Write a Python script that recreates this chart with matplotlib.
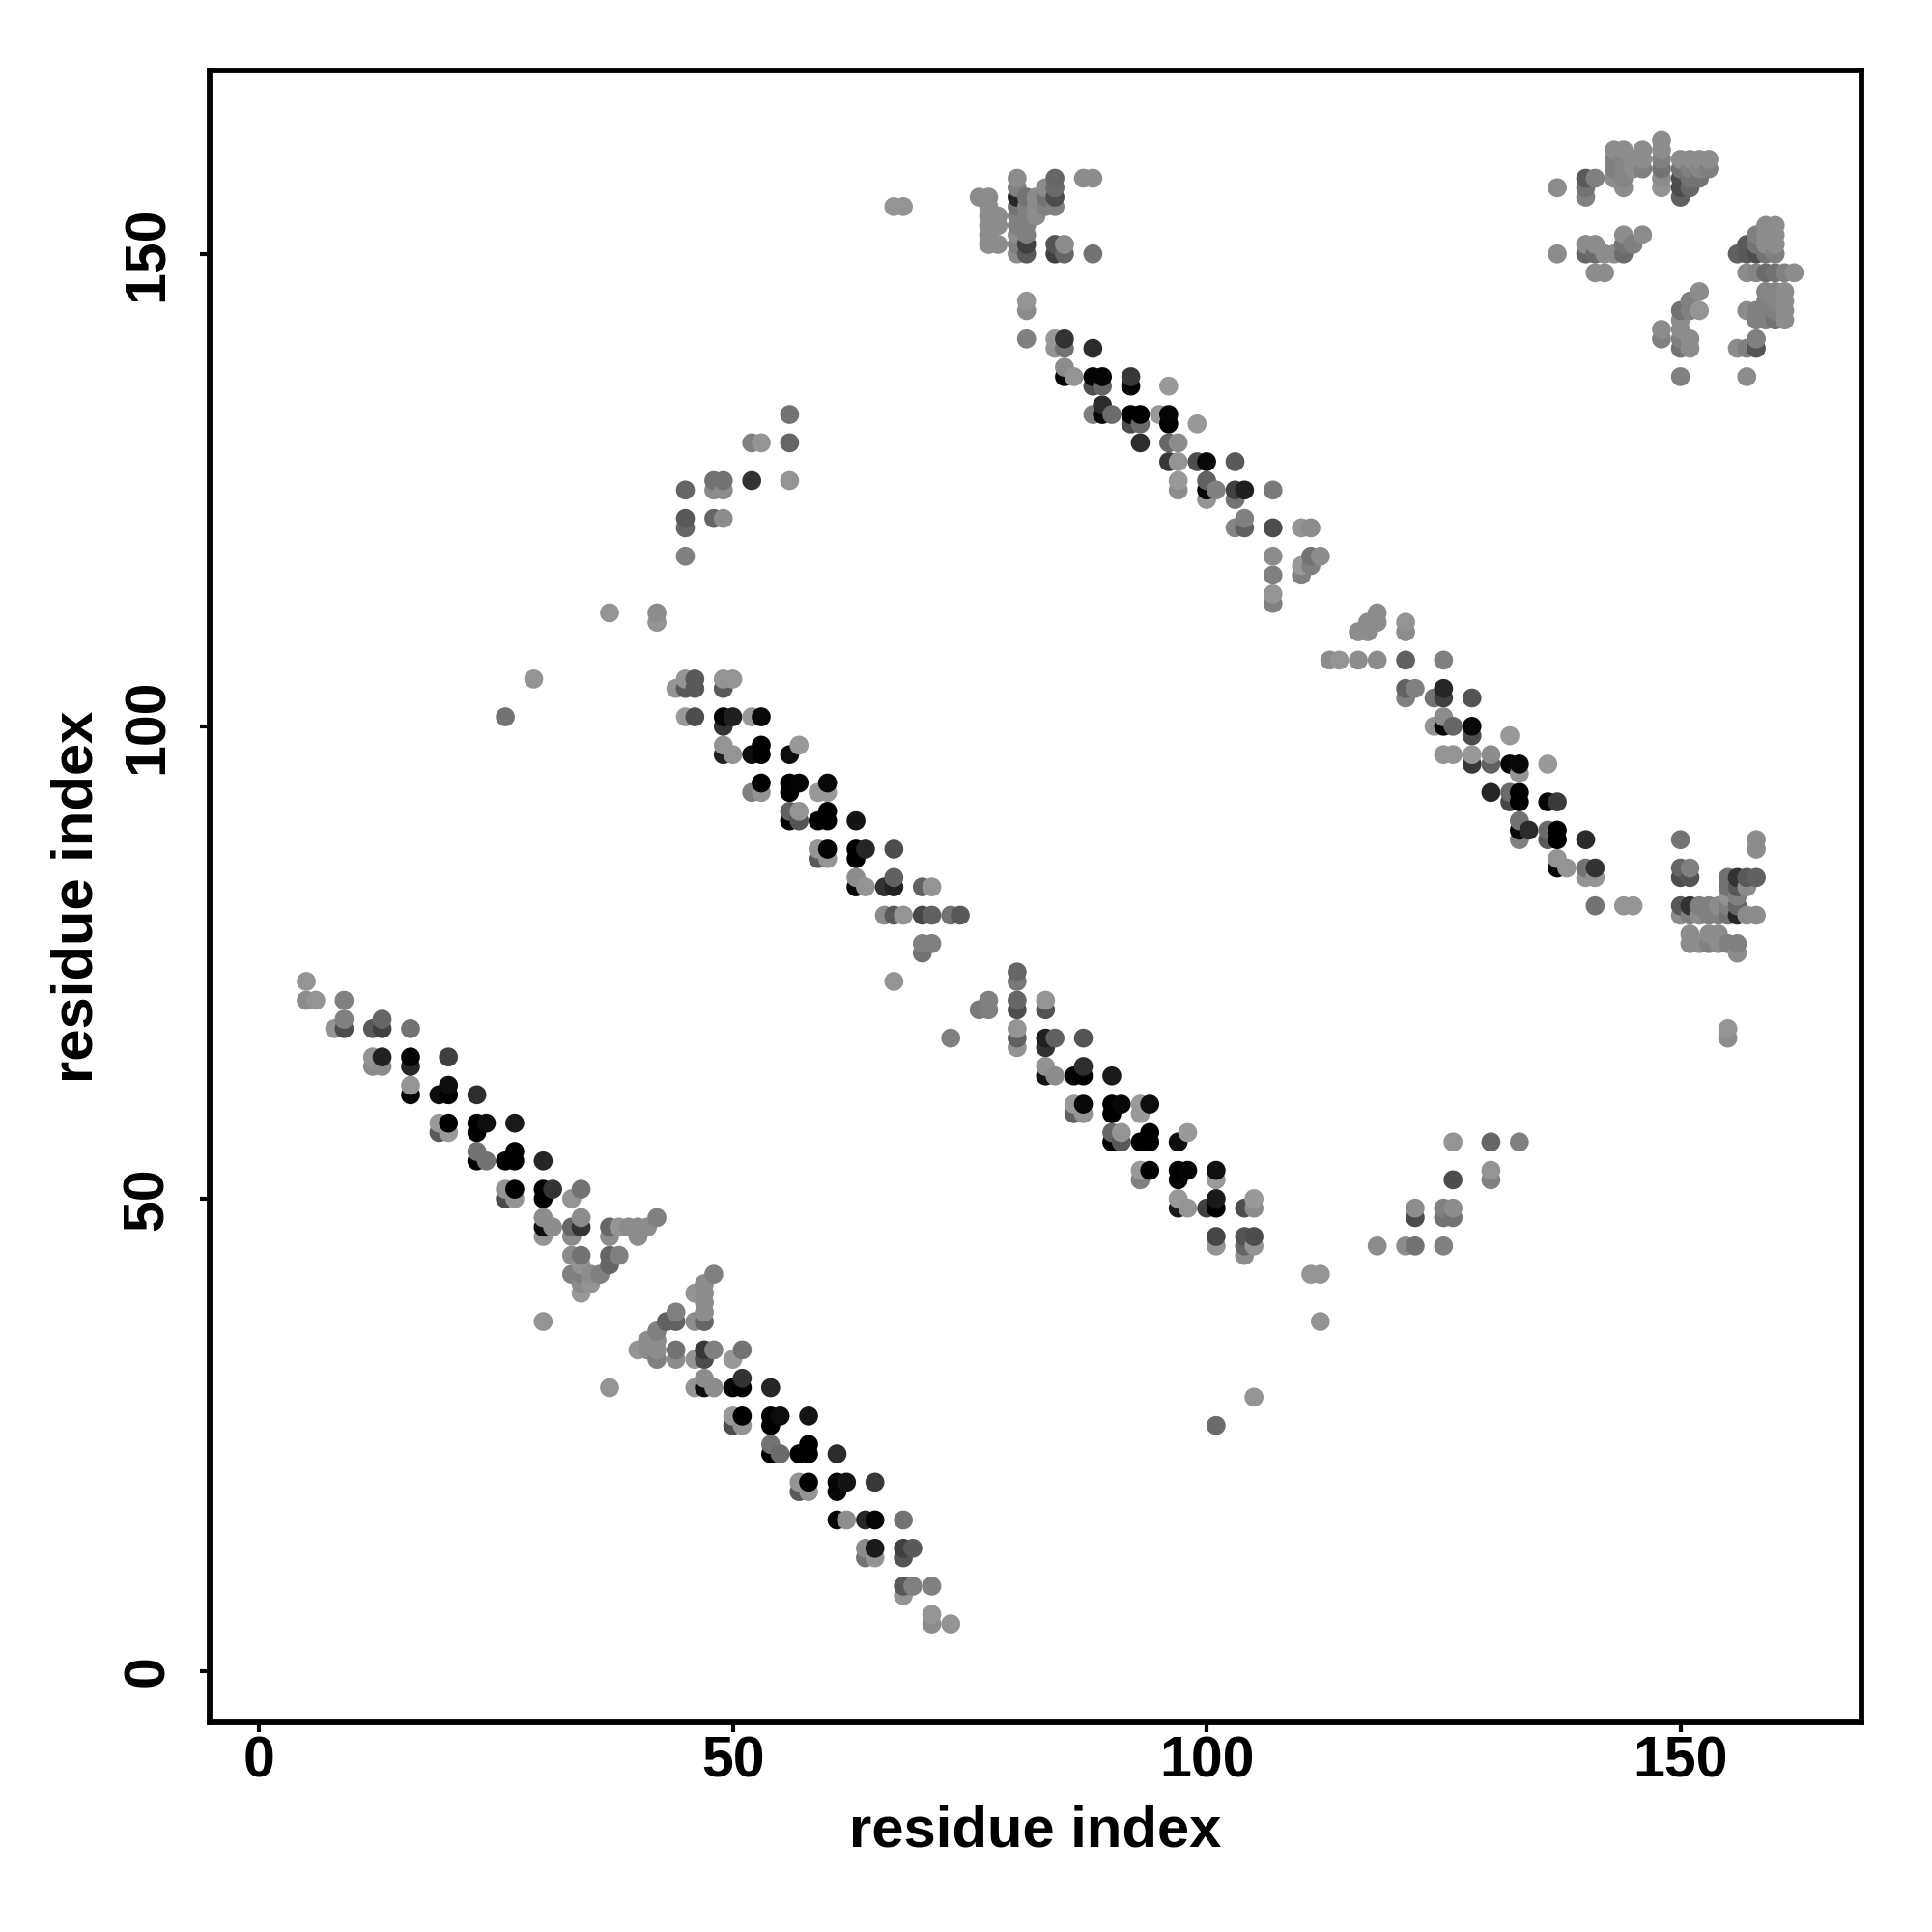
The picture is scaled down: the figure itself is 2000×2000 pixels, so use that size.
import numpy as np
import matplotlib
matplotlib.use("Agg")
import matplotlib.pyplot as plt

plt.rcParams['font.family'] = ['Liberation Sans', 'DejaVu Sans']

# (residue i, residue j, grey level of the contact dot)
helix_a = [
 (5,73,.58),(5,71,.55),(6,71,.58),(9,71,.5),(9,69,.5),(13,69,.4),(8,68,.58),(9,68,.3),(12,68,.35),(13,68,.25),(16,68,.45),
 (12,65,.58),(13,65,.13),(16,65,.02),(20,65,.25),(12,64,.55),(13,64,.55),(16,64,.15),(16,62,.58),(20,62,.05),
 (16,61,0),(19,61,.05),(20,61,0),(23,61,.18),(19,58,.6),(20,58,0),(23,58,0),(24,58,.05),(27,58,.1),
 (19,57,.35),(20,57,.6),(23,57,0),(23,55,.45),(27,55,0),(23,54,0),(24,54,.45),(26,54,0),(27,54,0),(30,54,.15),
 (26,51,.58),(27,51,0),(30,51,0),(31,51,.2),(34,51,.45),(26,50,.3),(27,50,.58),(30,50,0),(33,50,.58),
 (30,48,.55),(34,48,.55),(42,48,.5),(30,47,.05),(31,47,.55),(33,47,.4),(34,47,.2),(37,47,.4),(38,47,.58),(39,47,.55),(40,47,.55),(41,47,.55),
 (30,46,.58),(33,46,.55),(37,46,.55),(40,46,.55),(33,44,.55),(34,44,.45),(37,44,.4),(38,44,.5),(34,43,.58),(37,43,.4),
 (33,42,.5),(34,42,.5),(35,42,.55),(36,42,.5),(34,41,.55),(35,41,.58),(34,40,.6),(30,37,.58),
]
helix_a2 = [
 (48,42,.5),(47,41,.55),(46,40,.58),(47,40,.55),(47,39,.55),(47,38,.55),(44,38,.5),(43,37,.38),(44,37,.38),(46,37,.55),(47,37,.4),
 (42,36,.5),(41,35,.55),(42,35,.55),(40,34,.58),(41,34,.55),(42,34,.55),(44,34,.45),(47,34,.22),(48,34,.5),(51,34,.45),
 (42,33,.5),(44,33,.55),(46,33,.58),(47,33,.3),(50,33,.6),(47,31,.55),(51,31,.2),(37,30,.58),(46,30,.58),(47,30,.05),(48,30,.55),
 (50,30,.02),(51,30,0),(54,30,.15),(50,27,.6),(51,27,0),(54,27,0),(55,27,.05),(58,27,.08),(50,26,.3),(51,26,.58),(54,26,0),
 (54,24,.45),(58,24,0),(54,23,0),(55,23,.42),(57,23,0),(58,23,0),(61,23,.17),(57,20,.58),(58,20,0),(61,20,.02),(62,20,.08),(65,20,.22),
 (57,19,.35),(58,19,.58),(61,19,.03),(61,16,.02),(62,16,.55),(64,16,.15),(65,16,.02),(68,16,.45),(64,13,.55),(65,13,.1),(68,13,.25),(69,13,.35),
 (64,12,.45),(65,12,.58),(68,12,.33),(68,9,.35),(69,9,.5),(71,9,.5),(68,8,.58),(71,6,.58),(71,5,.55),(73,5,.58),
]
helix_b = [
 (45,105,.58),(46,105,.35),(49,105,.58),(50,105,.58),(44,104,.58),(45,104,.35),(46,104,.35),(49,104,.35),
 (45,101,.6),(46,101,.3),(49,101,.02),(50,101,.12),(52,101,.6),(53,101,.03),(49,100,.2),(49,98,.58),(53,98,0),(57,98,.6),
 (49,97,.12),(50,97,.58),(52,97,.05),(53,97,0),(56,97,.05),(53,94,0),(56,94,0),(57,94,.02),(60,94,.03),
 (52,93,.5),(53,93,.58),(56,93,0),(59,93,.6),(60,93,.6),(56,91,.38),(57,91,.58),(60,91,0),(56,90,0),(57,90,.33),(59,90,0),(60,90,0),(63,90,.08),
 (59,87,.58),(60,87,.02),(63,87,0),(64,87,.15),(67,87,.3),(59,86,.35),(60,86,.58),(63,86,0),(63,84,.55),(67,84,.38),
 (63,83,.03),(64,83,.58),(66,83,.2),(67,83,.13),(70,83,.38),(71,83,.58),(66,80,.55),(67,80,.35),(68,80,.58),(70,80,.28),(71,80,.38),(73,80,.45),(74,80,.35),
 (70,77,.5),(71,77,.5),(70,76,.45),(67,73,.58),(73,67,.5),
]
helix_c = [
 (80,74,.4),(80,73,.47),(77,71,.5),(80,71,.4),(83,71,.58),(76,70,.48),(77,70,.5),(80,70,.3),(83,70,.33),(80,68,.58),(80,67,.38),(83,67,.12),(84,67,.38),(87,67,.33),
 (80,66,.58),(83,66,.2),(83,64,.58),(87,64,.18),(83,63,.08),(84,63,.55),(86,63,.02),(87,63,0),(90,63,.1),
 (86,60,.6),(87,60,.03),(90,60,0),(91,60,.03),(93,60,.6),(94,60,.05),(86,59,.38),(87,59,.58),(90,59,0),(93,59,.6),
 (90,57,.4),(91,57,.58),(94,57,0),(98,57,.6),(90,56,0),(91,56,.35),(93,56,0),(94,56,0),(97,56,.05),
 (93,53,.6),(94,53,0),(97,53,0),(98,53,.02),(101,53,.06),(93,52,.5),(97,52,.02),(101,52,.6),(97,50,.6),(101,50,.1),(105,50,.6),
 (97,49,.1),(98,49,.58),(100,49,.25),(101,49,0),(104,49,.3),(105,49,.55),(101,46,.27),(104,46,.33),(105,46,.3),
 (101,45,.58),(104,45,.4),(105,45,.58),(104,44,.55),
]
loop_low = [
 (111,42,.58),(112,42,.58),(112,37,.58),(101,26,.42),(105,29,.58),(118,45,.55),(121,45,.55),(122,45,.45),(122,48,.3),(122,49,.55),
 (125,45,.5),(125,48,.45),(125,49,.5),(126,48,.45),(126,49,.55),(126,52,.3),(126,56,.58),(130,56,.4),(130,53,.58),(130,52,.5),(133,56,.5),
 (155,68,.58),(155,67,.55),
]
top_mid = [
 (67,155,.58),(68,155,.58),(80,158,.55),(84,158,.4),(87,158,.55),(88,158,.55),(80,157,.5),(83,157,.55),(84,157,.42),
 (76,156,.55),(77,156,.55),(80,156,.15),(81,156,.45),(82,156,.55),(83,156,.45),(84,156,.3),
 (77,155,.55),(80,155,.45),(81,155,.5),(82,155,.55),(83,155,.5),(84,155,.5),(77,154,.55),(78,154,.55),(80,154,.5),(81,154,.5),(82,154,.55),
 (77,153,.55),(78,153,.55),(80,153,.5),(81,153,.5),(77,152,.55),(80,152,.55),(81,152,.5),(77,151,.55),(78,151,.55),(80,151,.5),(81,151,.25),(84,151,.33),(85,151,.55),
 (80,150,.55),(81,150,.35),(84,150,.25),(85,150,.4),(88,150,.45),(81,145,.58),(81,144,.55),
]
helix_d = [
 (81,141,.5),(84,141,.6),(85,141,.2),(84,140,.58),(85,140,.45),(88,140,.17),(85,138,.55),(85,137,.02),(86,137,.58),(88,137,.02),(89,137,.02),(92,137,.22),
 (88,136,.3),(89,136,.4),(92,136,.02),(96,136,.6),(89,134,.17),(88,133,.5),(89,133,.02),(90,133,.42),(92,133,0),(93,133,0),(95,133,.6),(96,133,.02),
 (92,132,.3),(93,132,.42),(96,132,0),(99,132,.6),(93,130,.18),(96,130,.4),(97,130,.55),(96,128,.22),(97,128,.58),(99,128,.3),(100,128,.03),(103,128,.35),
 (97,126,.6),(100,126,.38),(97,125,.55),(100,125,.02),(101,125,.5),(103,125,.25),(104,125,.12),(107,125,.48),(100,124,.58),(103,124,.45),
 (104,122,.5),(103,121,.52),(104,121,.38),(107,121,.3),(110,121,.58),(111,121,.55),(107,118,.55),(111,118,.45),(112,118,.55),
 (110,117,.6),(111,117,.5),(107,116,.5),(110,116,.5),(107,114,.58),(107,113,.5),
]
helix_e = [
 (113,107,.55),(114,107,.58),(116,107,.55),(118,107,.55),(121,107,.38),(125,107,.5),(116,110,.55),(117,110,.55),(117,111,.55),(118,111,.55),(118,112,.55),(121,111,.58),(121,110,.55),
 (121,104,.38),(122,104,.5),(125,104,.15),(121,103,.5),(124,103,.45),(125,103,.25),(128,103,.33),(125,101,.55),(124,100,.58),(125,100,.02),(126,100,.4),(128,100,.03),
 (128,99,.3),(132,99,.6),(125,97,.58),(126,97,.58),(128,97,.6),(130,97,.55),(128,96,.22),(130,96,.38),(132,96,.02),(133,96,.03),(136,96,.6),(133,95,.58),
 (130,93,.15),(132,93,.42),(133,93,0),(132,92,.28),(133,92,0),(136,92,.02),(137,92,.23),(133,90,.45),(133,89,.03),(134,89,.17),(136,89,.42),(137,89,0),
 (133,88,.5),(136,88,.35),(137,88,0),(140,88,.17),(137,86,.58),(137,85,.02),(138,85,.58),(140,85,.45),(141,85,.2),(140,84,.58),(141,84,.58),(141,81,.45),(144,81,.58),(145,81,.58),
]
right_mid = [
 (150,88,.45),(158,88,.55),(158,87,.55),(150,85,.4),(151,85,.5),(150,84,.3),(151,84,.33),(155,84,.45),(156,84,.2),(157,84,.35),(158,84,.38),
 (155,83,.45),(156,83,.35),(157,83,.55),(155,82,.58),(156,82,.5),(150,81,.35),(151,81,.2),(152,81,.5),(153,81,.5),(154,81,.55),(155,81,.5),(156,81,.4),
 (150,80,.55),(151,80,.5),(152,80,.55),(153,80,.5),(154,80,.5),(155,80,.45),(156,80,.15),(157,80,.55),(158,80,.55),
 (151,78,.55),(153,78,.55),(154,78,.55),(151,77,.55),(152,77,.55),(153,77,.5),(154,77,.55),(155,77,.5),(156,77,.5),(156,76,.55),
]
top_right = [
 (148,162,.55),(143,161,.55),(144,161,.55),(146,161,.55),(148,161,.55),(143,160,.5),(144,160,.52),(145,160,.55),(146,160,.55),(148,160,.5),(150,160,.55),(151,160,.55),(152,160,.55),(153,160,.55),
 (143,159,.5),(144,159,.52),(145,159,.55),(146,159,.5),(148,159,.45),(150,159,.45),(151,159,.5),(152,159,.52),(153,159,.5),
 (140,158,.35),(141,158,.5),(143,158,.55),(144,158,.52),(148,158,.55),(150,158,.3),(151,158,.45),(152,158,.45),
 (137,157,.55),(140,157,.45),(144,157,.55),(148,157,.58),(150,157,.3),(151,157,.4),(140,156,.5),(150,156,.38),
 (144,152,.55),(146,152,.55),(140,151,.55),(141,151,.55),(144,151,.45),(145,151,.5),
 (137,150,.55),(140,150,.4),(141,150,.42),(142,150,.55),(143,150,.55),(144,150,.42),(141,148,.55),(142,148,.55),
 (159,153,.55),(160,153,.55),(158,152,.5),(159,152,.55),(160,152,.55),(157,151,.35),(158,151,.45),(159,151,.55),(160,151,.55),
 (156,150,.38),(157,150,.35),(158,150,.3),(159,150,.45),(160,150,.5),
 (157,148,.55),(158,148,.52),(159,148,.42),(160,148,.45),(161,148,.5),(162,148,.55),
 (159,146,.52),(160,146,.52),(161,146,.55),(159,145,.5),(160,145,.52),(161,145,.55),
 (157,144,.55),(158,144,.5),(159,144,.5),(160,144,.5),(161,144,.55),(158,143,.5),(159,143,.5),(160,143,.45),(161,143,.55),
 (156,140,.55),(157,140,.5),(158,141,.5),(158,140,.33),(157,137,.55),
 (152,146,.55),(151,145,.5),(150,144,.45),(151,144,.5),(152,144,.58),(150,143,.55),(150,142,.55),(148,142,.55),(148,141,.5),(150,141,.5),(151,141,.55),(150,140,.45),(151,140,.55),(150,137,.5),
]
left_arm = [
 (56,133,.45),(52,130,.5),(53,130,.58),(56,130,.4),(48,126,.45),(49,126,.45),(52,126,.2),(56,126,.58),(48,125,.55),(49,125,.55),(45,125,.4),
 (45,122,.35),(45,121,.4),(48,122,.4),(49,122,.55),(45,118,.5),(37,112,.58),(42,112,.55),(42,111,.58),(29,105,.58),(26,101,.45),
]
x_ticks = [0, 50, 100, 150]
y_ticks = [0, 50, 100, 150]
axis_label = "residue index"

points = np.array(helix_a + helix_a2 + helix_b + helix_c + loop_low + top_mid +
                  helix_d + helix_e + right_mid + top_right + left_arm)
order = np.lexsort((points[:, 1], points[:, 0]))
points = points[order]

fig = plt.figure(figsize=(20, 20), dpi=100, facecolor='white')
ax = fig.add_axes([217/2000, 1-1783/2000, (1927-217)/2000, (1783-73)/2000])
ax.scatter(points[:, 0], points[:, 1], s=200, linewidths=0,
           c=[(g, g, g) for g in points[:, 2]], zorder=3)
ax.set_xlim(-5.2, 169.1)
ax.set_ylim(-5.42, 169.4)
ax.set_xticks(x_ticks)
ax.set_yticks(y_ticks)
ax.tick_params(axis='x', length=7, width=3, labelsize=42.5, pad=3)
ax.tick_params(axis='y', length=7, width=3, labelsize=42.5, pad=19)
for lab in ax.get_xticklabels() + ax.get_yticklabels():
    lab.set_fontweight('bold')
for lab in ax.get_yticklabels():
    lab.set_rotation(90)
    lab.set_va('center')
for s in ax.spines.values():
    s.set_linewidth(4.2)
ax.set_xlabel(axis_label, fontsize=43, fontweight='bold', labelpad=12)
ax.set_ylabel(axis_label, fontsize=43, fontweight='bold', labelpad=13)
fig.savefig('out.png', dpi=100, facecolor='white')
